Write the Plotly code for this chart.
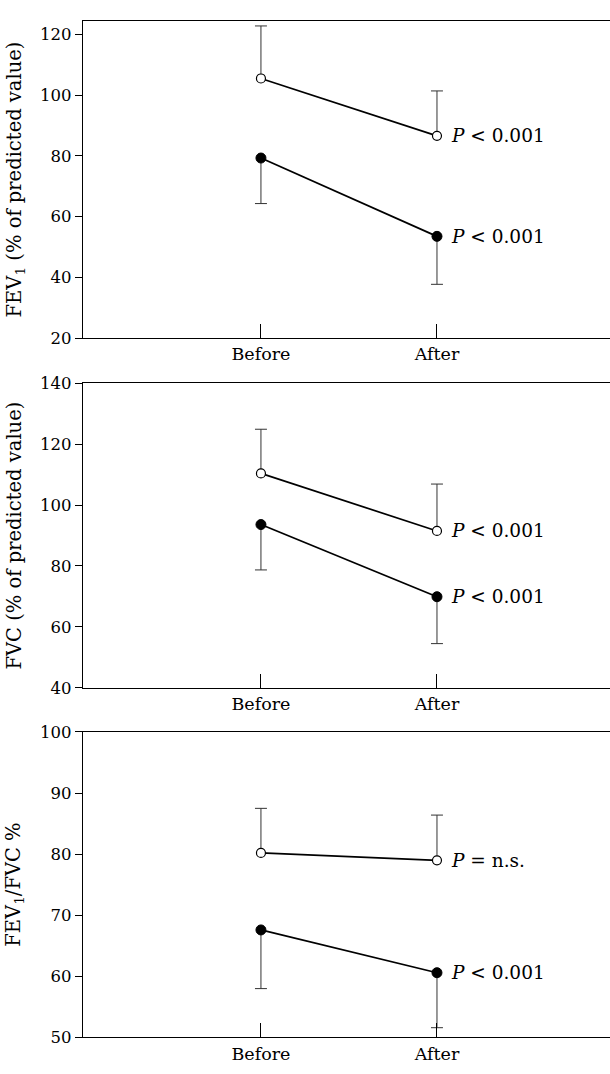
import plotly.graph_objects as go
from plotly.subplots import make_subplots

# ---- data ----
time_labels = ["Before", "After"]
time_pos = [1, 2]

# Panel 1: FEV1 (% of predicted)
fev1_open = [105.5, 86.6]
fev1_open_err_up = [17.3, 14.8]
fev1_filled = [79.3, 53.5]
fev1_filled_err_down = [15.0, 15.8]
fev1_p = ["<i>P</i> &lt; 0.001", "<i>P</i> &lt; 0.001"]

# Panel 2: FVC (% of predicted)
fvc_open = [110.4, 91.5]
fvc_open_err_up = [14.5, 15.4]
fvc_filled = [93.6, 69.9]
fvc_filled_err_down = [14.9, 15.4]
fvc_p = ["<i>P</i> &lt; 0.001", "<i>P</i> &lt; 0.001"]

# Panel 3: FEV1/FVC %
ratio_open = [80.2, 79.0]
ratio_open_err_up = [7.3, 7.4]
ratio_filled = [67.6, 60.6]
ratio_filled_err_down = [9.6, 9.0]
ratio_p = ["<i>P</i> = n.s.", "<i>P</i> &lt; 0.001"]

y_titles = ["FEV<sub>1</sub> (% of predicted value)",
            "FVC (% of predicted value)",
            "FEV<sub>1</sub>/FVC %"]
y_ranges = [[20, 124.5], [40, 140], [50, 100]]
y_ticks = [[20, 40, 60, 80, 100, 120], [40, 60, 80, 100, 120, 140],
           [50, 60, 70, 80, 90, 100]]

panels = [
    (fev1_open, fev1_open_err_up, fev1_filled, fev1_filled_err_down, fev1_p),
    (fvc_open, fvc_open_err_up, fvc_filled, fvc_filled_err_down, fvc_p),
    (ratio_open, ratio_open_err_up, ratio_filled, ratio_filled_err_down, ratio_p),
]

W, H = 610, 1074
# pixel extents of each plot (top, bottom)
pix = [(12, 335), (381, 691), (736, 1047)]
x_left_px = 83

FONT = "DejaVu Serif"
CAP = 0.034  # cap half width in x data units

fig = make_subplots(rows=3, cols=1)

for i, (op, op_up, fi, fi_dn, ptxt) in enumerate(panels):
    r = i + 1
    # error bars (one-sided)
    ex, ey = [], []
    for x, v, e in zip(time_pos, op, op_up):
        ex += [x, x, None, x - CAP, x + CAP, None]
        ey += [v, v + e, None, v + e, v + e, None]
    for x, v, e in zip(time_pos, fi, fi_dn):
        ex += [x, x, None, x - CAP, x + CAP, None]
        ey += [v, v - e, None, v - e, v - e, None]
    fig.add_trace(go.Scatter(x=ex, y=ey, mode="lines",
                             line=dict(color="#333333", width=1),
                             showlegend=False, hoverinfo="skip"), row=r, col=1)
    # filled series
    fig.add_trace(go.Scatter(x=time_pos, y=fi, mode="lines+markers",
                             line=dict(color="black", width=1.7),
                             marker=dict(size=10, color="black",
                                         line=dict(color="black", width=1)),
                             showlegend=False), row=r, col=1)
    # open series
    fig.add_trace(go.Scatter(x=time_pos, y=op, mode="lines+markers",
                             line=dict(color="black", width=1.7),
                             marker=dict(size=9, color="white",
                                         line=dict(color="black", width=1.2)),
                             showlegend=False), row=r, col=1)
    # P annotations
    xr = "x" if r == 1 else f"x{r}"
    yr = "y" if r == 1 else f"y{r}"
    for val, txt in zip([op[1], fi[1]], ptxt):
        fig.add_annotation(x=time_pos[1], y=val, xref=xr, yref=yr,
                           text=txt, showarrow=False, xanchor="left",
                           yanchor="middle", xshift=12,
                           font=dict(family=FONT, size=18.5, color="black"))
    # axes
    top, bot = pix[i]
    dom_y = [1 - bot / H, 1 - top / H]
    fig.update_xaxes(row=r, col=1, domain=[x_left_px / W, 1],
                     range=[-0.011, 2.983], tickvals=time_pos,
                     ticktext=time_labels, ticks="inside", ticklen=14,
                     tickcolor="black", tickwidth=1,
                     showline=True, linecolor="black", linewidth=1.2,
                     mirror=True, showgrid=False, zeroline=False,
                     tickfont=dict(family=FONT, size=17.5, color="black"))
    fig.update_yaxes(row=r, col=1, domain=dom_y, range=y_ranges[i],
                     tickvals=y_ticks[i], ticks="outside", ticklen=7,
                     tickcolor="black", tickwidth=1,
                     showline=True, linecolor="black", linewidth=1.2,
                     showgrid=False, zeroline=False,
                     tickfont=dict(family=FONT, size=16.5, color="black"))
    # y-title
    fig.add_annotation(x=15 / W, y=(dom_y[0] + dom_y[1]) / 2, xref="paper",
                       yref="paper", text=y_titles[i], showarrow=False,
                       textangle=-90, xanchor="center", yanchor="middle",
                       font=dict(family=FONT, size=19.5, color="black"))

fig.update_layout(width=W, height=H, margin=dict(l=0, r=0, t=0, b=0),
                  plot_bgcolor="white", paper_bgcolor="white",
                  showlegend=False)

fig.write_html("out.html")
